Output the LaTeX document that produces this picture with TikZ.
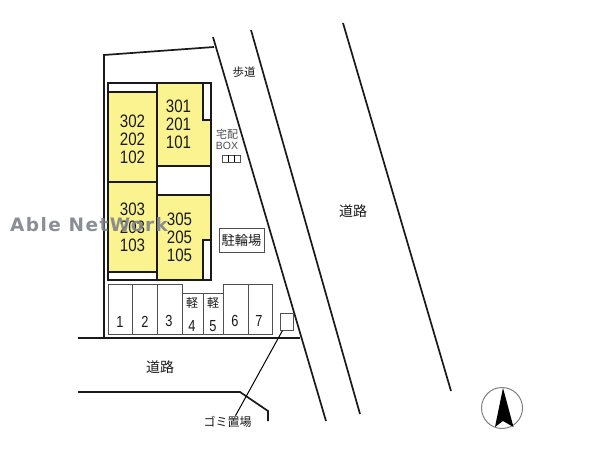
\documentclass[tikz,border=0pt]{standalone}
\usepackage{fontspec}
\setmainfont{Liberation Sans}
\newfontfamily\cjk{Noto Sans CJK JP}
\newfontfamily\wm{DejaVu Sans}
\definecolor{lotyellow}{HTML}{FBF38F}
\definecolor{ink}{HTML}{1A1A1A}
\definecolor{thin}{HTML}{505050}
\begin{document}
\begin{tikzpicture}[x=1pt,y=-1pt,
  wall/.style={draw=ink,line width=1.7pt},
  unit/.style={draw=ink,line width=1.4pt,fill=lotyellow},
  bay/.style={draw=thin,line width=1pt},
  num/.style={font=\fontsize{18}{18}\selectfont,color=ink,align=center,inner sep=0pt,xscale=0.84},
  bayno/.style={font=\fontsize{16}{16}\selectfont,color=ink,inner sep=0pt,xscale=0.8},
  jp/.style={font=\cjk\fontsize{14}{16}\selectfont,color=ink,inner sep=0pt},
  jps/.style={font=\cjk\fontsize{11}{12}\selectfont,color=thin,inner sep=0pt}]
\useasboundingbox (0,0) rectangle (600,450);
\fill[white] (0,0) rectangle (600,450);
% roads and lot
\draw[wall] (213,37) -- (326,421);
\draw[wall] (251,30) -- (360,414);
\draw[wall] (343,23) -- (451,391);
\draw[wall] (214,47) -- (104,55) -- (104,338);
\draw[wall] (78,338) -- (300,338);
\draw[wall] (78,392) -- (240,392) -- (268,411) -- (268,421);
% building
\draw[wall] (108,83) rectangle (211,280);
\draw[unit] (108,92) rectangle (157,182);
\draw[unit] (108,182) rectangle (157,272);
\draw[unit] (157,83) -- (211,83) -- (211,166) -- (157,166) -- cycle;
\draw[unit] (157,195) -- (211,195) -- (211,280) -- (157,280) -- cycle;
\draw[draw=ink,line width=1.3pt,fill=white] (203,83) rectangle (211,120);
\draw[draw=ink,line width=1.3pt,fill=white] (203,240) rectangle (211,280);
\node[num] (u302) at (132.5,139) {302\\202\\102};
\node[num] (u301) at (178.5,124) {301\\201\\101};
\node[num] (u303) at (132.5,227) {303\\203\\103};
\node[num] (u305) at (179.5,237) {305\\205\\105};
% parking
\draw[bay] (108,284) -- (182,284) -- (182,293) -- (223,293) -- (223,284) -- (272,284) -- (272,334) -- (108,334) -- cycle;
\foreach \x in {132,157,182,203,223,248} \draw[bay] (\x,\ifnum\x<182 284\else\ifnum\x>222 284\else 293\fi\fi) -- (\x,334);
\node[bayno] (b1) at (120,322) {1};
\node[bayno] (b2) at (145,322) {2};
\node[bayno] (b3) at (169,321) {3};
\node[bayno] (b4) at (192,326) {4};
\node[bayno] (b5) at (213,326) {5};
\node[bayno] (b6) at (235,321) {6};
\node[bayno] (b7) at (259,321) {7};
\node[jps,font=\cjk\fontsize{12}{13}\selectfont,color=ink] (k4) at (192,303) {軽};
\node[jps,font=\cjk\fontsize{12}{13}\selectfont,color=ink] (k5) at (213,303) {軽};
% bike parking
\node[draw=thin,line width=1pt,minimum width=45pt,minimum height=24pt,inner sep=0pt,font=\cjk\fontsize{13.3}{15}\selectfont,text=ink] (bike) at (241.5,240) {駐輪場};
% delivery box
\node[jps] (tk) at (227,134) {宅配};
\node[inner sep=0pt,font=\fontsize{10.5}{12}\selectfont,text=thin] (bx) at (227,146) {BOX};
\node[draw=thin,line width=0.9pt,minimum width=18pt,minimum height=7pt,inner sep=0pt] (dbox) at (231,158.5) {};
\draw[thin,line width=0.9pt] (228,155) -- (228,162) (234,155) -- (234,162);
% labels
\node[jp,font=\cjk\fontsize{11.5}{13}\selectfont] (walk) at (244,72) {歩道};
\node[jp] (road1) at (353,211) {道路};
\node[jp] (road2) at (160,367) {道路};
% trash
\node[draw=thin,line width=1pt,minimum width=13pt,minimum height=17pt,inner sep=0pt] (trash) at (286.5,321.5) {};
\node[jp,font=\cjk\fontsize{12}{14}\selectfont] (gomi) at (227.5,421.5) {ゴミ置場};
\draw[thin,line width=1pt] ([xshift=3pt]trash.south west) -- ([xshift=8pt]gomi.north);
% compass
\node[circle,draw=gray,line width=1pt,minimum size=41pt,inner sep=0pt] (compass) at (502,408) {};
\fill[black] (503,388) -- (513.5,427) -- (503,421) -- (495,427) -- cycle;
% watermark
\node[inner sep=0pt,anchor=west,font=\wm\bfseries\fontsize{18.5}{20}\selectfont,text={rgb,255:red,125;green,131;blue,140},opacity=0.9] (mark) at (10,225) {\addfontfeatures{LetterSpace=7.6}Able NetWork};
\end{tikzpicture}
\end{document}
